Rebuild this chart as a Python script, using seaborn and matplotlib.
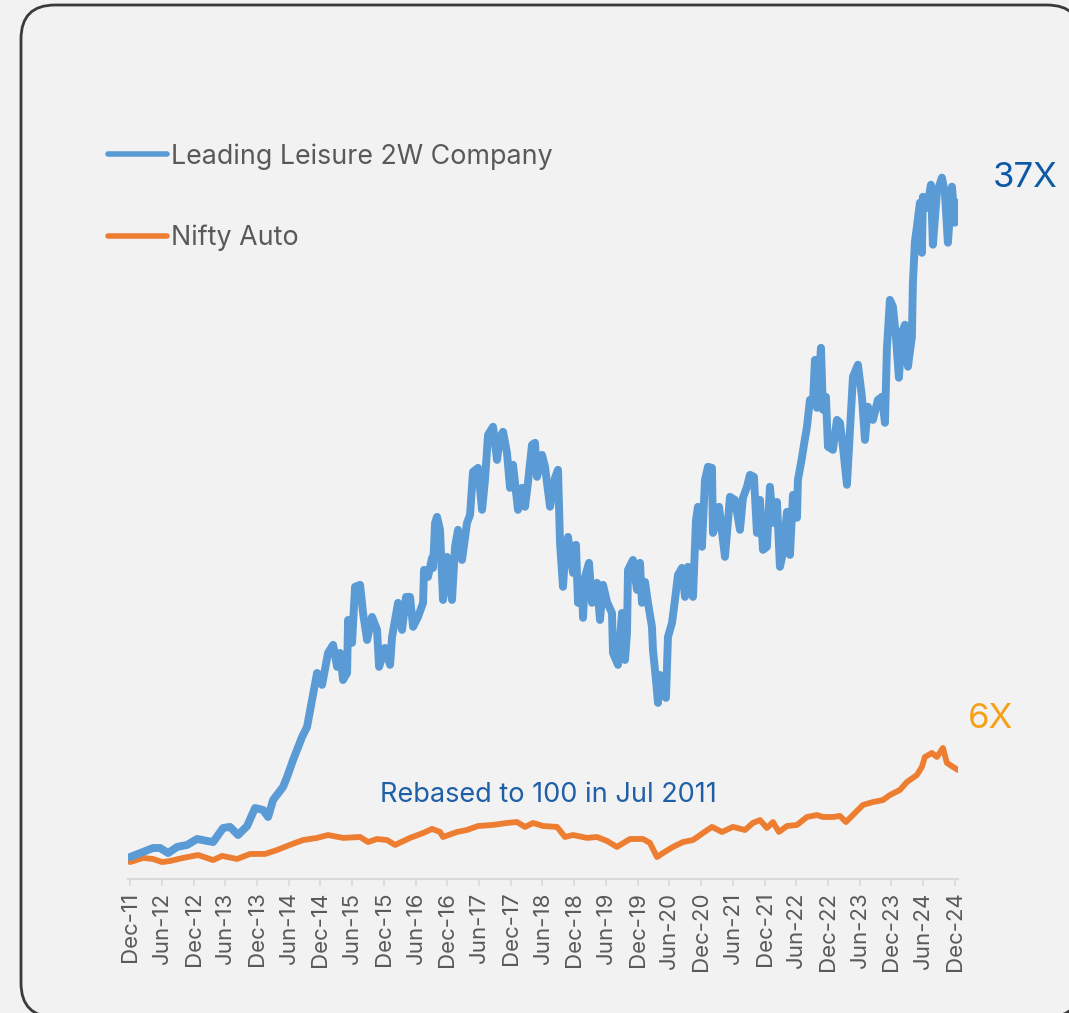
import matplotlib
matplotlib.use("Agg")
import matplotlib.pyplot as plt
from matplotlib.patches import FancyBboxPatch
from matplotlib.lines import Line2D
import seaborn as sns
import pandas as pd

# ---------------- data (months since Dec-2011, index rebased to 100 in Jul 2011) -------------
leisure_month = [0, 4.35, 5.67, 7.19, 8.89, 10.78, 12.67, 14.56, 15.70, 17.59, 18.91, 20.42, 22.13, 23.64,
                 25.15, 26.10, 27.04, 28.93, 29.69, 30.82, 32.53, 33.47, 34.42, 35.36, 36.31, 37.44, 38.39,
                 39.15, 39.71, 40.28, 41.04, 41.23, 41.98, 42.55, 43.50, 44.06, 44.82, 45.76, 46.71, 47.09,
                 48.22, 49.17, 49.55, 50.68, 51.44, 52.19, 52.95, 53.52, 54.46, 55.41, 55.60, 56.35, 57.11,
                 57.30, 57.68, 58.06, 58.62, 59.19, 59.95, 60.89, 61.46, 62.03, 62.78, 63.73, 64.30, 64.86,
                 65.81, 66.57, 67.13, 67.70, 68.65, 69.40, 69.97, 70.54, 71.29, 71.86, 72.43, 73.37, 74.13,
                 74.70, 75.27, 76.02, 76.59, 76.97, 77.91, 78.48, 79.43, 80.37, 80.94, 81.32, 81.88, 82.26,
                 82.83, 83.78, 84.34, 84.72, 85.48, 85.67, 86.05, 86.80, 87.37, 88.31, 88.88, 89.45, 90.21,
                 91.15, 91.34, 92.29, 93.04, 93.61, 93.99, 94.18, 95.12, 95.88, 96.45, 96.82, 97.39, 97.96,
                 98.71, 98.90, 99.47, 99.85, 100.23, 100.80, 101.36, 101.74, 102.50, 103.06, 103.63, 104.39,
                 104.96, 105.52, 106.47, 107.04, 107.41, 108.17, 108.74, 109.31, 110.06, 110.25, 111.01,
                 111.39, 112.52, 113.47, 114.41, 115.36, 115.92, 116.68, 117.25, 118.00, 118.57, 119.14,
                 119.71, 120.46, 121.03, 121.60, 122.35, 122.92, 123.49, 124.25, 124.81, 125.38, 126.14,
                 126.32, 127.08, 127.46, 128.03, 128.59, 129.16, 129.54, 129.92, 130.68, 131.05, 131.62,
                 132.00, 132.94, 133.70, 134.27, 134.84, 135.59, 136.16, 136.73, 137.67, 138.43, 139.00,
                 139.56, 140.51, 141.45, 142.21, 142.78, 143.16, 143.72, 144.29, 144.86, 145.42, 145.99,
                 146.56, 147.13, 147.88, 148.07, 148.45, 148.83, 149.40, 149.77, 149.96, 150.72, 151.48,
                 151.85, 152.61, 153.56, 154.12, 154.69, 155.45, 156.01, 156.39]
leisure_value = [122, 172, 172, 144, 178, 189, 222, 211, 205, 283, 289, 244, 294, 394,
                 383, 344, 438, 511, 566, 660, 788, 844, 993, 1143, 1077, 1254, 1299,
                 1177, 1254, 1104, 1143, 1437, 1310, 1621, 1632, 1476, 1326, 1454, 1382, 1177,
                 1282, 1188, 1343, 1532, 1382, 1565, 1565, 1399, 1454, 1532, 1715, 1676, 1782,
                 1726, 1976, 2009, 1937, 1548, 1787, 1548, 1843, 1937, 1770, 1976, 2020, 2259,
                 2281, 2048, 2214, 2464, 2509, 2325, 2453, 2481, 2364, 2170, 2298, 2048, 2170,
                 2065, 2203, 2409, 2420, 2231, 2353, 2287, 2065, 2226, 2270, 1865, 1621, 1787,
                 1898, 1698, 1854, 1532, 1621, 1449, 1676, 1754, 1532, 1643, 1437, 1632, 1537,
                 1476, 1254, 1188, 1476, 1215, 1365, 1715, 1770, 1604, 1754, 1532, 1648, 1532,
                 1399, 1271, 1104, 977, 1132, 1032, 1005, 1343, 1421, 1548, 1687, 1726,
                 1565, 1732, 1565, 1992, 2065, 1843, 2214, 2287, 2281, 1920, 1992,
                 2065, 1787, 2120, 2103, 1937, 2114, 2176, 2242, 2231, 1920, 2103,
                 1826, 1843, 2176, 1976, 2092, 1732, 1809, 2037, 1798, 2131, 2004,
                 2214, 2337, 2409, 2509, 2658, 2642, 2880, 2614, 2947, 2603, 2675,
                 2398, 2381, 2547, 2531, 2398, 2187, 2492, 2786, 2853, 2675, 2436,
                 2620, 2547, 2658, 2675, 2531, 2947, 3213, 3175, 3008, 2781, 3030,
                 3075, 2842, 3008, 3308, 3535, 3619, 3752, 3474, 3785, 3724, 3852,
                 3519, 3807, 3891, 3807, 3530, 3841, 3641, 3752]

auto_month = [0, 2.46, 4.35, 6.05, 7.56, 10.02, 12.86, 15.70, 17.40, 20.23, 22.69, 25.53, 27.80, 30.64,
              32.72, 35.36, 37.44, 40.28, 43.50, 45.01, 46.71, 48.60, 50.11, 52.95, 55.41, 57.11, 58.62,
              59.19, 61.84, 63.73, 65.81, 68.65, 71.29, 73.18, 74.70, 76.21, 78.10, 80.75, 82.26, 83.78,
              86.42, 88.31, 90.21, 92.09, 94.55, 97.01, 98.33, 99.66, 100.79, 102.68, 104.57, 106.46,
              108.36, 110.06, 111.95, 114.03, 116.30, 117.81, 119.14, 120.46, 121.60, 122.73, 124.25,
              126.14, 128.03, 129.92, 131.05, 132.94, 134.27, 135.40, 137.10, 138.62, 140.51, 142.40,
              143.72, 145.61, 146.94, 148.83, 149.77, 150.34, 151.67, 152.61, 153.75, 154.50, 155.64, 156.58]
auto_value = [94, 117, 111, 94, 100, 117, 133, 105, 128, 111, 139, 139, 161, 194,
              216, 228, 244, 228, 233, 205, 222, 216, 189, 228, 255, 278, 261,
              233, 261, 272, 294, 300, 311, 316, 289, 311, 294, 289, 233, 244,
              228, 233, 211, 178, 222, 222, 200, 122, 144, 178, 205, 216,
              255, 289, 261, 289, 272, 311, 327, 283, 316, 261, 294,
              300, 344, 355, 344, 344, 350, 316, 366, 411, 427, 438,
              466, 494, 538, 577, 622, 677, 699, 677, 727, 644, 622, 605]

tick_months = list(range(0, 157, 6))
tick_labels = ["Dec-11", "Jun-12", "Dec-12", "Jun-13", "Dec-13", "Jun-14", "Dec-14", "Jun-15", "Dec-15",
               "Jun-16", "Dec-16", "Jun-17", "Dec-17", "Jun-18", "Dec-18", "Jun-19", "Dec-19", "Jun-20",
               "Dec-20", "Jun-21", "Dec-21", "Jun-22", "Dec-22", "Jun-23", "Dec-23", "Jun-24", "Dec-24"]
series_names = ["Leading Leisure 2W Company", "Nifty Auto"]

# ---------------- style -------------
BG = "#f2f2f2"
BLUE = "#5b9bd5"
ORANGE = "#ed7d31"
TXT = "#595959"
sns.set_theme(style="white")
plt.rcParams["font.family"] = ["Inter", "DejaVu Sans"]

W, H = 1069, 1013
fig = plt.figure(figsize=(W / 100, H / 100), dpi=100, facecolor=BG)

# rounded frame
bg_ax = fig.add_axes([0, 0, 1, 1])
bg_ax.set_xlim(0, W)
bg_ax.set_ylim(H, 0)
bg_ax.axis("off")
bg_ax.add_patch(FancyBboxPatch((21, 5), 1060, 1012, boxstyle="round,pad=0,rounding_size=34",
                               facecolor=BG, edgecolor="#3a3a3a", linewidth=2.0))

x0, x1 = 128, 958
y_bottom, y_top = 879, 158
ax = fig.add_axes([x0 / W, (H - y_bottom) / H, (x1 - x0) / W, (y_bottom - y_top) / H])
ax.set_facecolor("none")

df_l = pd.DataFrame({"month": leisure_month, "value": leisure_value})
df_a = pd.DataFrame({"month": auto_month, "value": auto_value})
sns.lineplot(data=df_a, x="month", y="value", ax=ax, color=ORANGE, linewidth=4.2,
             estimator=None, sort=False, solid_joinstyle="round", solid_capstyle="round")
sns.lineplot(data=df_l, x="month", y="value", ax=ax, color=BLUE, linewidth=5.7,
             estimator=None, sort=False, solid_joinstyle="round", solid_capstyle="round")

ax.set_xlim(-0.4, 156.6)
ax.set_ylim(0, 4000)
for s in ["top", "right", "left"]:
    ax.spines[s].set_visible(False)
ax.spines["bottom"].set_color("#d9d9d9")
ax.spines["bottom"].set_linewidth(1.5)
ax.set_yticks([])
ax.set_xticks(tick_months)
ax.set_xticklabels(tick_labels, rotation=90, fontsize=16, color=TXT)
ax.tick_params(axis="x", bottom=True, length=5, width=1.2, color="#d9d9d9", pad=4)
ax.set_xlabel("")
ax.set_ylabel("")

handles = [Line2D([0], [0], color=BLUE, lw=4, solid_capstyle="round"),
           Line2D([0], [0], color=ORANGE, lw=4, solid_capstyle="round")]
leg = fig.legend(handles, series_names, loc="upper left", bbox_to_anchor=(108 / W, 1 - 143 / H),
                 frameon=False, fontsize=19.3, handlelength=2.2, handletextpad=0.15, labelspacing=2.05,
                 labelcolor=TXT, borderpad=0, borderaxespad=0)

fig.text(548 / W, 1 - 795 / H, "Rebased to 100 in Jul 2011", ha="center", va="center",
         fontsize=19.5, color="#1f5fa8")
fig.text(1025 / W, 1 - 178 / H, "37X", ha="center", va="center", fontsize=25, color="#0d59a6")
fig.text(990 / W, 1 - 719 / H, "6X", ha="center", va="center", fontsize=25, color="#f5a11a")

fig.savefig("out.png", dpi=100, facecolor=BG)
